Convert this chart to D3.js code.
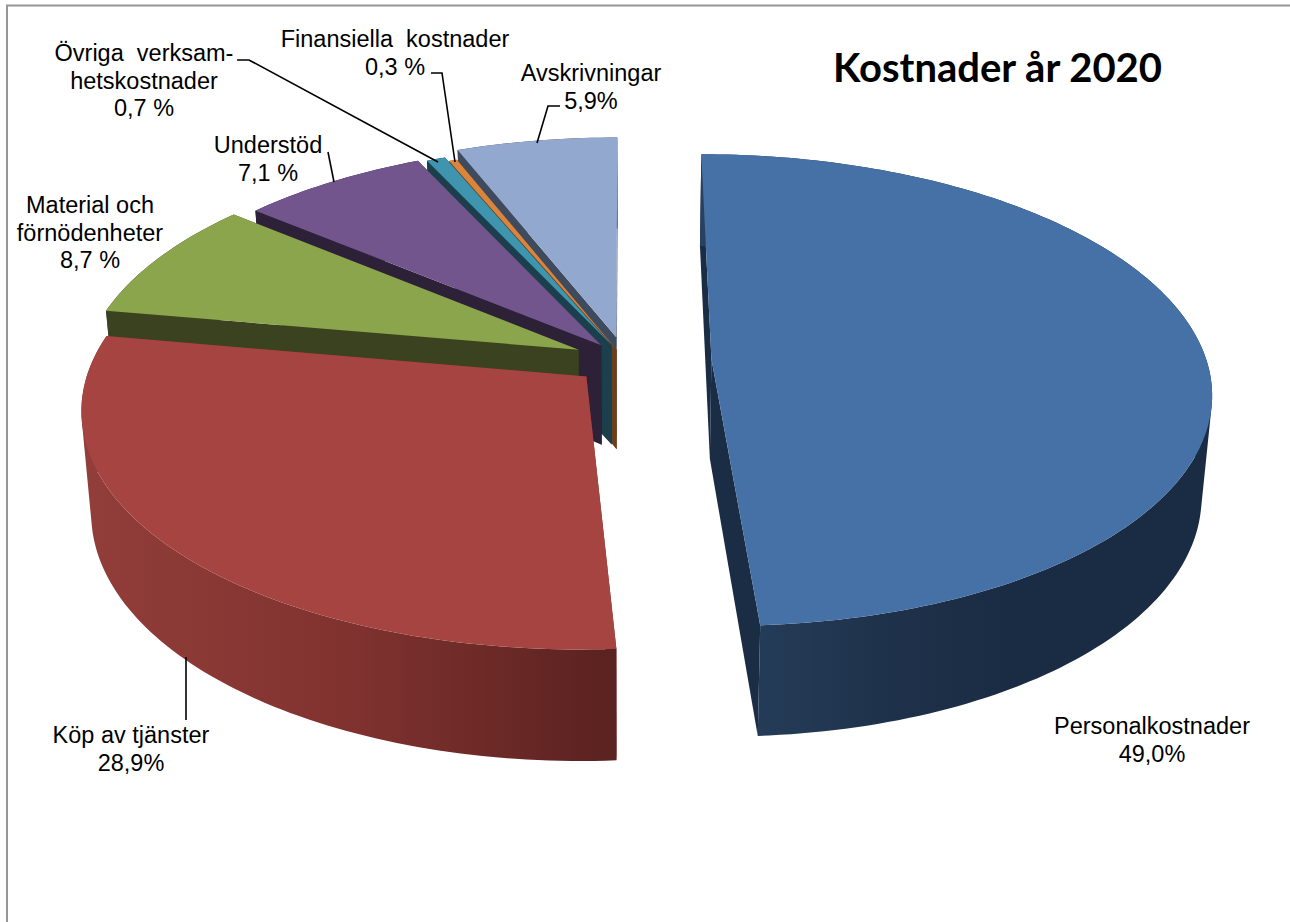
<!DOCTYPE html>
<html>
<head>
<meta charset="utf-8">
<script src="https://cdn.jsdelivr.net/npm/d3@7"></script>
<style>
    html, body { margin: 0; padding: 0; background: #fff; }
    text { font-family: "Liberation Sans", Arial, sans-serif; fill: #000; white-space: pre; }
</style>
</head>
<body>
<div id="chart"></div>
<script>
'use strict';

const categories = ['Personalkostnader', 'Köp av tjänster', 'Material och förnödenheter', 'Understöd',
    'Övriga verksamhetskostnader', 'Finansiella kostnader', 'Avskrivningar'];
// shares as the slices are drawn, the printed labels add up to 100,6 so a few differ slightly from them
const values = [49.2, 28.9, 8.3, 7.0, 0.7, 0.3, 6.0];
const explosion = [86, 52, 52, 40, 35, 24, 50];

const topColors = ['#4571a6', '#a64441', '#8aa54c', '#71558c', '#3f94ae', '#db843c', '#93a8cf'];
const wallColors = ['#1b2d45', '#7a2e2c', '#3a421f', '#2d2138', '#1b3f4c', '#6b3f1c', '#3e4a5e'];
const wallStops = [
    [[0, '#27415f'], [0.35, '#1f324b'], [0.6, '#1a2c43'], [1, '#1a2c43']],
    [[0, '#923e3a'], [0.5, '#80322f'], [1, '#5a2220']]
];

const labelLines = [
    ['Personalkostnader', '49,0%'],
    ['Köp av tjänster', '28,9%'],
    ['Material och', 'förnödenheter', '8,7 %'],
    ['Understöd', '7,1 %'],
    ['Övriga  verksam-', 'hetskostnader', '0,7 %'],
    ['Finansiella  kostnader', '0,3 %'],
    ['Avskrivningar', '5,9%']
];
const labelAnchors = [[1152, 734], [131, 743], [90, 213], [268, 153], [144, 61], [395, 47], [591, 81]];
const leaders = [
    null,
    [[186, 657], [186, 720]],
    null,
    [[328, 152], [334, 182]],
    [[237, 60], [249, 60], [438, 162]],
    [[431, 73], [442, 73], [455, 162]],
    [[560, 106], [548, 106], [537, 143]]
];

const width = 1290,
    height = 922,
    lineHeight = 27.6;

// perspective of the pie plane
const view = { cx: 625.5, cy: 360, r: 495, b: 232, k: 0.133, lowerX: 0.982, lowerY: 1.04, drop: 100 };

function project(wx, wy, lower) {
    let v = wy / view.r,
        w = 1 + view.k * v,
        sx = wx / w,
        sy = -view.b * v / w;
    if (lower) {
        return [view.cx + sx * view.lowerX, view.cy + sy * view.lowerY + view.drop];
    }
    return [view.cx + sx, view.cy + sy];
}

let svg = d3.select('#chart').append('svg')
    .attr('width', width)
    .attr('height', height)
    .style('display', 'block');

let defs = svg.append('defs');

// chart frame, only left and top show in the picture
svg.append('path')
    .attr('d', 'M7,' + height + 'V5.5H' + width)
    .attr('fill', 'none')
    .attr('stroke', '#969696')
    .attr('stroke-width', 2);

let pie = d3.pie().sort(null).value(function (d) { return d; });
let slices = pie(values);
let line = d3.line();

function slicePoints(d, i) {
    let mid = (d.startAngle + d.endAngle) / 2,
        ox = Math.sin(mid) * explosion[i],
        oy = Math.cos(mid) * explosion[i],
        steps = Math.max(2, Math.ceil((d.endAngle - d.startAngle) / 0.02)),
        angle = d3.scaleLinear().domain([0, steps]).range([d.startAngle, d.endAngle]);

    let rim = d3.range(steps + 1).map(function (s) {
        return [ox + Math.sin(angle(s)) * view.r, oy + Math.cos(angle(s)) * view.r];
    });

    return {
        apexTop: project(ox, oy, false),
        apexLow: project(ox, oy, true),
        rimTop: rim.map(function (p) { return project(p[0], p[1], false); }),
        rimLow: rim.map(function (p) { return project(p[0], p[1], true); })
    };
}

// back slices first, the big front ones go last
let order = d3.range(values.length).reverse();

let pieGroup = svg.append('g').attr('id', 'pie');

order.forEach(function (i) {
    let d = slices[i],
        p = slicePoints(d, i),
        g = pieGroup.append('g').attr('class', 'slice').attr('id', 'slice-' + i),
        last = p.rimTop.length - 1,
        fill = wallColors[i];

    // radial walls
    [[p.rimTop[0], p.rimLow[0]], [p.rimTop[last], p.rimLow[last]]].forEach(function (edge) {
        g.append('path')
            .attr('d', line([p.apexTop, edge[0], edge[1], p.apexLow]) + 'Z')
            .attr('fill', wallColors[i]);
    });

    // outer wall
    if (wallStops[i]) {
        let xs = p.rimTop.concat(p.rimLow).map(function (q) { return q[0]; });
        let grad = defs.append('linearGradient')
            .attr('id', 'wall-' + i)
            .attr('gradientUnits', 'userSpaceOnUse')
            .attr('x1', d3.min(xs))
            .attr('x2', d3.max(xs))
            .attr('y1', 0)
            .attr('y2', 0);
        wallStops[i].forEach(function (s) {
            grad.append('stop').attr('offset', s[0]).attr('stop-color', s[1]);
        });
        fill = 'url(#wall-' + i + ')';
    }
    // one quad per rim step, all in one path so the silhouette joins the two rims without seams
    let wall = d3.range(last).map(function (s) {
        let quad = [p.rimTop[s], p.rimTop[s + 1], p.rimLow[s + 1], p.rimLow[s]];
        if (d3.polygonArea(quad) < 0) {
            quad.reverse();
        }
        return line(quad) + 'Z';
    }).join('');
    g.append('path')
        .attr('d', wall)
        .attr('fill', fill);

    // top face
    g.append('path')
        .attr('d', line([p.apexTop].concat(p.rimTop)) + 'Z')
        .attr('fill', topColors[i]);
});

// leader lines
svg.append('g').selectAll('path')
    .data(leaders.filter(function (d) { return d; }))
    .enter()
    .append('path')
    .attr('d', function (d) { return line(d); })
    .attr('fill', 'none')
    .attr('stroke', '#000')
    .attr('stroke-width', 1.6);

// data labels
let labels = svg.append('g').selectAll('text')
    .data(categories)
    .enter()
    .append('text')
    .attr('text-anchor', 'middle')
    .attr('font-size', 23.5);

labels.each(function (d, i) {
    d3.select(this).selectAll('tspan')
        .data(labelLines[i])
        .enter()
        .append('tspan')
        .attr('x', labelAnchors[i][0])
        .attr('y', function (t, n) { return labelAnchors[i][1] + n * lineHeight; })
        .text(function (t) { return t; });
});

svg.append('text')
    .attr('x', 833)
    .attr('y', 82)
    .attr('font-size', 40)
    .attr('font-weight', 700)
    .style('font-family', 'Lato, sans-serif')
    .text('Kostnader år 2020');
</script>
</body>
</html>
